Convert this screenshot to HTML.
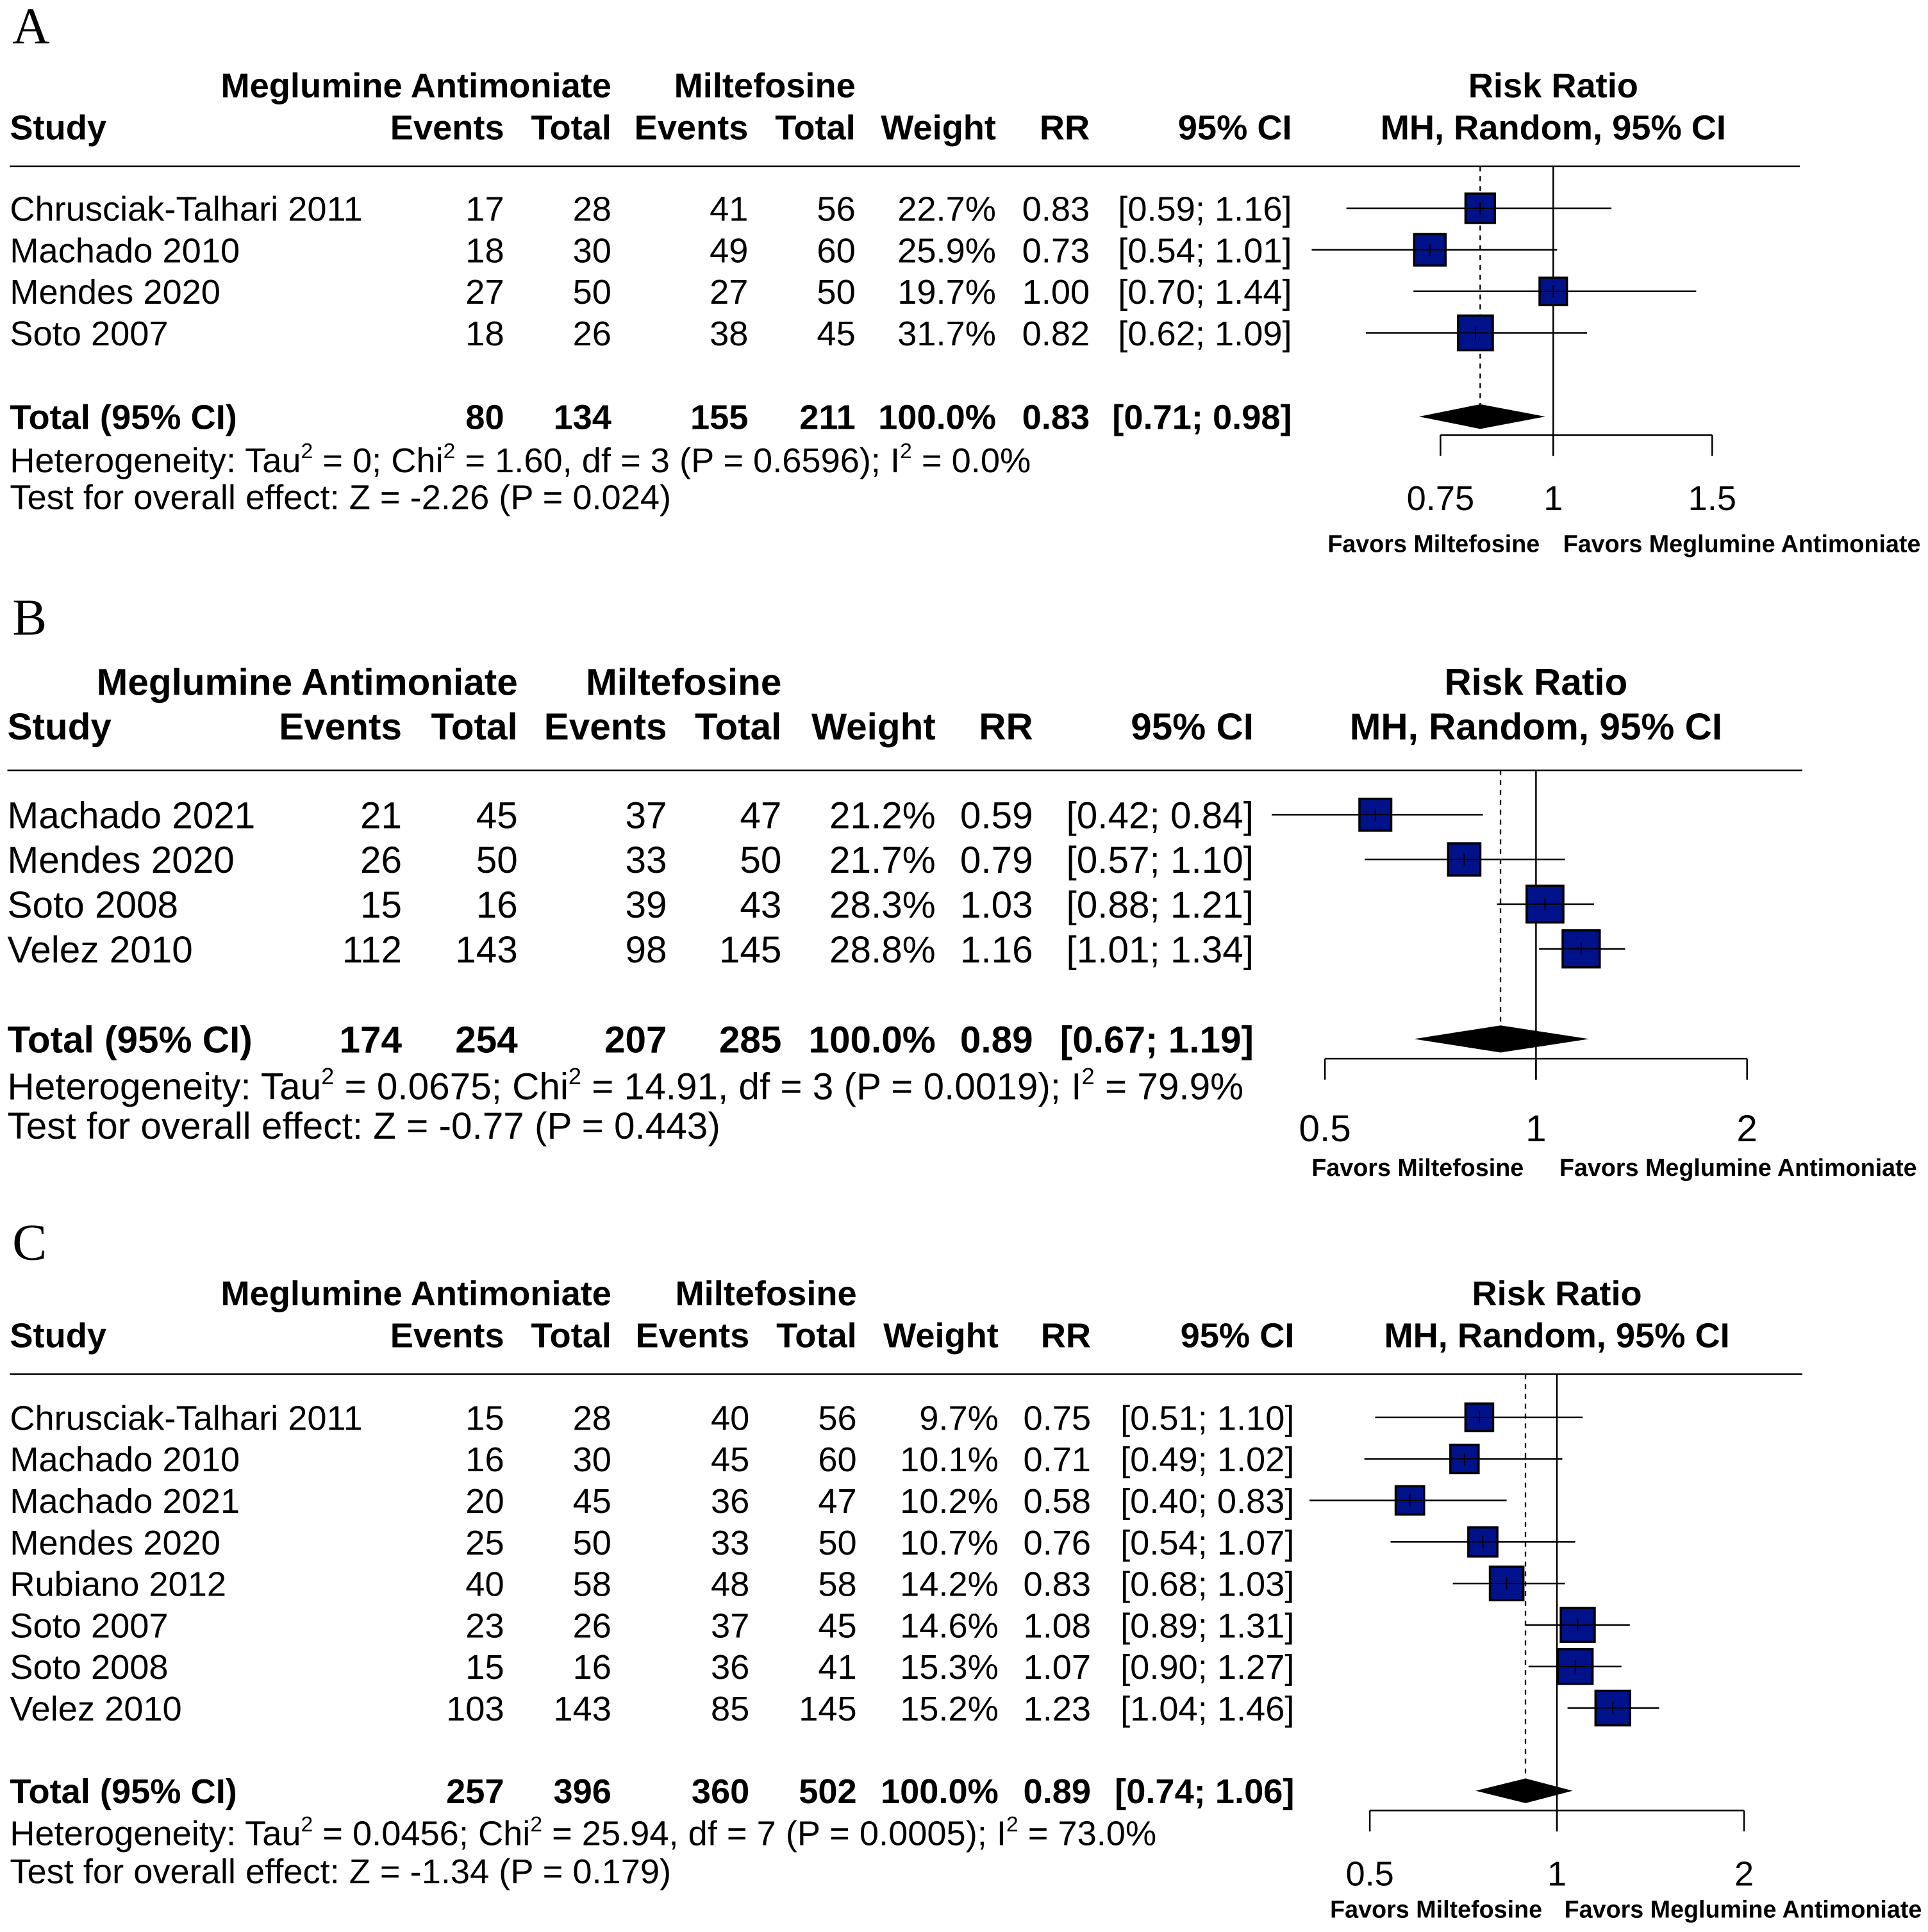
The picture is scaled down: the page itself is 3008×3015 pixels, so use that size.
<!DOCTYPE html>
<html><head><meta charset="utf-8"><style>
html,body{margin:0;padding:0;background:#fff;}
svg{display:block;}
text{font-family:"Liberation Sans",Arial,sans-serif;fill:#000;}
</style></head><body>
<svg id="fig" xmlns="http://www.w3.org/2000/svg" width="3008" height="3015" viewBox="0 0 1564 1567.6" preserveAspectRatio="none"></svg>
<script>
// ---- Panel A data ----
const aStudies = ["Chrusciak-Talhari 2011","Machado 2010","Mendes 2020","Soto 2007"];
const aEvE = [17,18,27,18];
const aTotE = [28,30,50,26];
const aEvC = [41,49,27,38];
const aTotC = [56,60,50,45];
const aWeight = [22.7,25.9,19.7,31.7];
const aRR = [0.83,0.73,1.00,0.82];
const aLo = [0.59,0.54,0.70,0.62];
const aHi = [1.16,1.01,1.44,1.09];
const aTotal = [80,134,155,211];
const aSum = [0.83,0.71,0.98];
const aTicks = [0.75,1,1.5];
const aTickLabels = ["0.75","1","1.5"];
// ---- Panel B data ----
const bStudies = ["Machado 2021","Mendes 2020","Soto 2008","Velez 2010"];
const bEvE = [21,26,15,112];
const bTotE = [45,50,16,143];
const bEvC = [37,33,39,98];
const bTotC = [47,50,43,145];
const bWeight = [21.2,21.7,28.3,28.8];
const bRR = [0.59,0.79,1.03,1.16];
const bLo = [0.42,0.57,0.88,1.01];
const bHi = [0.84,1.10,1.21,1.34];
const bTotal = [174,254,207,285];
const bSum = [0.89,0.67,1.19];
const bTicks = [0.5,1,2];
const bTickLabels = ["0.5","1","2"];
// ---- Panel C data ----
const cStudies = ["Chrusciak-Talhari 2011","Machado 2010","Machado 2021","Mendes 2020","Rubiano 2012","Soto 2007","Soto 2008","Velez 2010"];
const cEvE = [15,16,20,25,40,23,15,103];
const cTotE = [28,30,45,50,58,26,16,143];
const cEvC = [40,45,36,33,48,37,36,85];
const cTotC = [56,60,47,50,58,45,41,145];
const cWeight = [9.7,10.1,10.2,10.7,14.2,14.6,15.3,15.2];
const cRR = [0.75,0.71,0.58,0.76,0.83,1.08,1.07,1.23];
const cLo = [0.51,0.49,0.40,0.54,0.68,0.89,0.90,1.04];
const cHi = [1.10,1.02,0.83,1.07,1.03,1.31,1.27,1.46];
const cTotal = [257,396,360,502];
const cSum = [0.89,0.74,1.06];
const cTicks = [0.5,1,2];
const cTickLabels = ["0.5","1","2"];

const NS="http://www.w3.org/2000/svg";
const svg=document.getElementById('fig');
function mk(tag,attrs,parent){const e=document.createElementNS(NS,tag);for(const k in attrs)e.setAttribute(k,attrs[k]);(parent||svg).appendChild(e);return e;}
function txt(s,x,y,fs,anchor,bold,parent,name){
  const t=mk('text',{x:x,y:y,'font-size':fs,'text-anchor':anchor||'start','font-weight':bold?'bold':'normal'},parent);
  t.textContent=s;
  
  
  return t;
}
function f2(v){return v.toFixed(2);}

function panel(c){
  const g=mk('g',{});
  
  
  const fs=c.fs, off=fs*0.36;
  const L=mk('text',{x:c.letterX,y:c.letterY,'font-size':42,style:'font-family:"Liberation Serif",serif'},g);
  L.textContent=c.letter;
  
  
  const col=c.cols;
  txt("Meglumine Antimoniate",col[1],c.h1+off,fs,'end',true,g,'group-header-treatment');
  txt("Miltefosine",col[3],c.h1+off,fs,'end',true,g,'group-header-control');
  txt("Risk Ratio",c.cx,c.h1+off,fs,'middle',true,g,'plot-header');
  txt("Study",c.sx,c.h2+off,fs,'start',true,g,'study-header');
  const hd=["Events","Total","Events","Total","Weight","RR","95% CI"];
  hd.forEach((h,i)=>txt(h,col[i],c.h2+off,fs,'end',true,g,'column-header'));
  txt("MH, Random, 95% CI",c.cx,c.h2+off,fs,'middle',true,g,'plot-subheader');
  const rl=mk('line',{x1:c.sx,x2:c.ruleX2,y1:c.ruleY,y2:c.ruleY,stroke:'#000','stroke-width':1.3},g);
  
  
  const X=v=>c.cx+c.k*Math.log(v);
  const n=c.studies.length;
  const vl=mk('line',{x1:X(1),x2:X(1),y1:c.ruleY,y2:c.axisY+17,stroke:'#000','stroke-width':1.3},g);
  
  
  const dl=mk('line',{x1:X(c.sum[0]),x2:X(c.sum[0]),y1:c.ruleY,y2:c.totalY,stroke:'#000','stroke-width':1.2,'stroke-dasharray':'4,4'},g);
  
  
  for(let i=0;i<n;i++){
    const y=c.rows0+i*c.rowH, yb=y+off;
    txt(c.studies[i],c.sx,yb,fs,'start',false,g,'study-name');
    const vals=[c.evE[i],c.totE[i],c.evC[i],c.totC[i],c.w[i].toFixed(1)+'%',f2(c.rr[i]),'['+f2(c.lo[i])+'; '+f2(c.hi[i])+']'];
    vals.forEach((v,j)=>txt(String(v),col[j],yb,fs,'end',false,g,'cell-value'));
    const ci=mk('line',{x1:X(c.lo[i]),x2:X(c.hi[i]),y1:y,y2:y,stroke:'#000','stroke-width':1.3},g);
    
    
    const s=c.sq*Math.sqrt(c.w[i]);
    const r=mk('rect',{x:X(c.rr[i])-s/2,y:y-s/2,width:s,height:s,fill:'#00128a',stroke:'#000','stroke-width':1.8},g);
    
    
    const h=mk('line',{x1:X(c.rr[i])-s/2,x2:X(c.rr[i])+s/2,y1:y,y2:y,stroke:'#000','stroke-width':1},g);
    
    
    const tk=mk('line',{x1:X(c.rr[i]),x2:X(c.rr[i]),y1:y-5,y2:y+5,stroke:'#000','stroke-width':1},g);
    
    
  }
  const ty=c.totalY+off;
  txt("Total (95% CI)",c.sx,ty,fs,'start',true,g,'total-label');
  const tv=[c.total[0],c.total[1],c.total[2],c.total[3],'100.0%',f2(c.sum[0]),'['+f2(c.sum[1])+'; '+f2(c.sum[2])+']'];
  tv.forEach((v,j)=>txt(String(v),col[j],ty,fs,'end',true,g,'total-value'));
  const dh=c.dh;
  const dm=mk('polygon',{points:`${X(c.sum[1])},${c.totalY} ${X(c.sum[0])},${c.totalY-dh} ${X(c.sum[2])},${c.totalY} ${X(c.sum[0])},${c.totalY+dh}`,fill:'#000'},g);
  
  
  const ht=mk('text',{x:c.sx,y:c.hetY+off,'font-size':fs},g);
  
  
  const parts=c.het;
  parts.forEach((p,i)=>{const sp=mk('tspan',{},ht);sp.textContent=p;
    if(i%2===1){sp.setAttribute('font-size',fs*0.62);sp.setAttribute('dy',-fs*0.4);}
    else if(i>0){sp.setAttribute('dy',fs*0.4);}});
  txt(c.test,c.sx,c.testY+off,fs,'start',false,g,'overall-effect-text');
  const t0=c.ticks[0], t1=c.ticks[c.ticks.length-1];
  const ax=mk('line',{x1:X(t0),x2:X(t1),y1:c.axisY,y2:c.axisY,stroke:'#000','stroke-width':1.3},g);
  
  
  c.ticks.forEach((t,i)=>{
    const l=mk('line',{x1:X(t),x2:X(t),y1:c.axisY,y2:c.axisY+17,stroke:'#000','stroke-width':1.3},g);
    
    
    txt(c.tickLabels[i],X(t),c.tickY,fs,'middle',false,g,'x-tick-label');
  });
  txt("Favors Miltefosine",c.favL,c.favY,19.6,'middle',true,g,'favors-left-label');
  txt("Favors Meglumine Antimoniate",c.favR,c.favY,19.6,'start',true,g,'favors-right-label');
}

panel({letter:'A',letterX:10,letterY:35,fs:28.2,sx:8,cols:[409,496,607,694,808,884,1048],h1:69,h2:103,ruleY:135,ruleX2:1460,
  cx:1260,k:318,studies:aStudies,evE:aEvE,totE:aTotE,evC:aEvC,totC:aTotC,w:aWeight,rr:aRR,lo:aLo,hi:aHi,total:aTotal,sum:aSum,
  rows0:169,rowH:33.7,sq:5.0,totalY:338,dh:10,hetY:373,testY:403,axisY:353,tickY:414,ticks:aTicks,tickLabels:aTickLabels,favY:448,favL:1163,favR:1268,
  het:["Heterogeneity: Tau","2"," = 0; Chi","2"," = 1.60, df = 3 (P = 0.6596); I","2"," = 0.0%"],test:"Test for overall effect: Z = -2.26 (P = 0.024)"});
panel({letter:'B',letterX:10,letterY:515,fs:30.4,sx:6,cols:[326,420,541,634,759,838,1017],h1:553,h2:589,ruleY:625,ruleX2:1462,
  cx:1246,k:247,studies:bStudies,evE:bEvE,totE:bTotE,evC:bEvC,totC:bTotC,w:bWeight,rr:bRR,lo:bLo,hi:bHi,total:bTotal,sum:bSum,
  rows0:661,rowH:36.3,sq:5.6,totalY:843,dh:11,hetY:881,testY:913,axisY:859,tickY:926,ticks:bTicks,tickLabels:bTickLabels,favY:954,favL:1150,favR:1265,
  het:["Heterogeneity: Tau","2"," = 0.0675; Chi","2"," = 14.91, df = 3 (P = 0.0019); I","2"," = 79.9%"],test:"Test for overall effect: Z = -0.77 (P = 0.443)"});
panel({letter:'C',letterX:10,letterY:1022,fs:28.2,sx:8,cols:[409,496,608,695,810,885,1050],h1:1049,h2:1083,ruleY:1115,ruleX2:1462,
  cx:1263,k:219,studies:cStudies,evE:cEvE,totE:cTotE,evC:cEvC,totC:cTotC,w:cWeight,rr:cRR,lo:cLo,hi:cHi,total:cTotal,sum:cSum,
  rows0:1150,rowH:33.7,sq:7.2,totalY:1453,dh:10,hetY:1487,testY:1518,axisY:1469,tickY:1530,ticks:cTicks,tickLabels:cTickLabels,favY:1556,favL:1165,favR:1269,
  het:["Heterogeneity: Tau","2"," = 0.0456; Chi","2"," = 25.94, df = 7 (P = 0.0005); I","2"," = 73.0%"],test:"Test for overall effect: Z = -1.34 (P = 0.179)"});
</script>
</body></html>
